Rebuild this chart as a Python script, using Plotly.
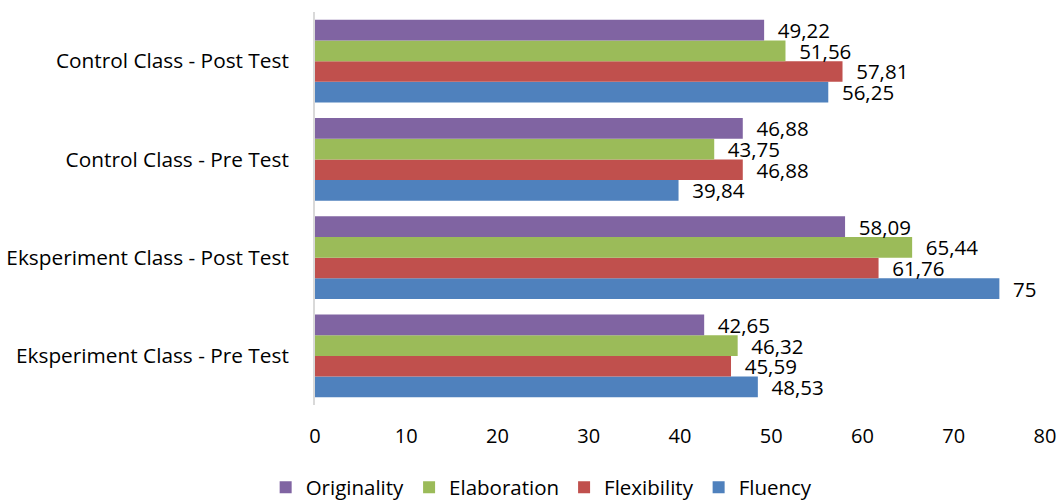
import plotly.graph_objects as go

# Class / test-phase groups, bottom to top
categories = [
    "Eksperiment Class - Pre Test",
    "Eksperiment Class - Post Test",
    "Control Class - Pre Test",
    "Control Class - Post Test",
]

# Creative-thinking indicator scores per group
originality = [42.65, 58.09, 46.88, 49.22]
elaboration = [46.32, 65.44, 43.75, 51.56]
flexibility = [45.59, 61.76, 46.88, 57.81]
fluency = [48.53, 75, 39.84, 56.25]

x_ticks = [0, 10, 20, 30, 40, 50, 60, 70, 80]

# Drawn bottom-up within each group: Fluency at the bottom, Originality on top
series = [
    ("Fluency", fluency, "#4F81BD"),
    ("Flexibility", flexibility, "#C0504D"),
    ("Elaboration", elaboration, "#9BBB59"),
    ("Originality", originality, "#8064A2"),
]

FONT = "Open Sans"


def fmt(v):
    s = f"{v:.2f}".replace(".", ",")
    if s.endswith(",00"):
        s = s[:-3]
    return "  " + s


fig = go.Figure()
for name, vals, color in series:
    fig.add_trace(go.Bar(
        name=name,
        y=categories,
        x=vals,
        orientation="h",
        marker=dict(color=color, line=dict(width=0)),
        text=[fmt(v) for v in vals],
        textposition="outside",
        constraintext="none",
        textfont=dict(family=FONT, size=20.5, color="#000000"),
        cliponaxis=False,
    ))

fig.update_layout(
    width=1060,
    height=500,
    barmode="group",
    bargap=0.16,
    bargroupgap=0,
    plot_bgcolor="white",
    paper_bgcolor="white",
    margin=dict(l=315, r=15, t=12, b=95, autoexpand=False),
    font=dict(family=FONT, size=20, color="#000000"),
    legend=dict(
        orientation="h",
        traceorder="reversed",
        xref="container",
        yref="container",
        x=0.511,
        xanchor="center",
        y=0.025,
        yanchor="middle",
        font=dict(family=FONT, size=20.5),
        itemwidth=30,
    ),
    xaxis=dict(
        range=[0, 80],
        tickvals=x_ticks,
        showgrid=False,
        zeroline=False,
        showline=False,
        ticks="",
        automargin=False,
        ticklabelstandoff=17,
        tickfont=dict(family=FONT, size=20),
    ),
    yaxis=dict(
        showgrid=False,
        showline=True,
        linecolor="#D9D9D9",
        linewidth=2,
        ticks="",
        automargin=False,
        ticklabelstandoff=20,
        tickfont=dict(family=FONT, size=20.8),
    ),
)

fig.write_html("out.html")
